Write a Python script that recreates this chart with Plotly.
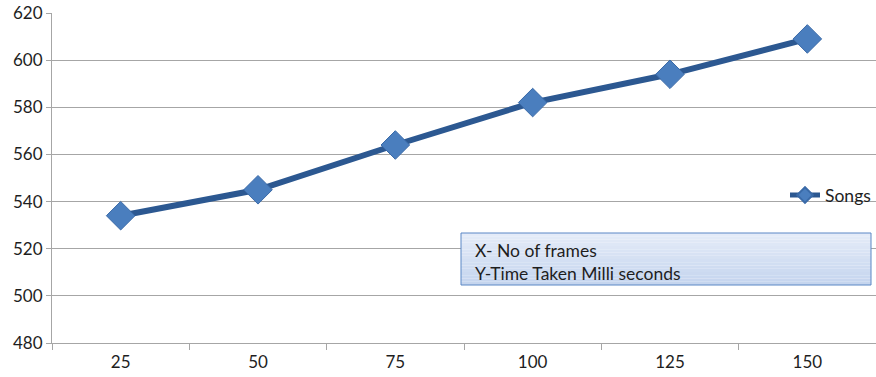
import plotly.graph_objects as go

# Frame counts (categories) and time taken in milliseconds
frames = ["25", "50", "75", "100", "125", "150"]
songs_ms = [534, 545, 564, 582, 594, 609]
y_ticks = [480, 500, 520, 540, 560, 580, 600, 620]

font_family = "Lato, 'Open Sans', sans-serif"
grid_color = "#A6A6A6"
text_color = "#1E1E1E"

fig = go.Figure()
fig.add_trace(go.Scatter(
    x=frames,
    y=songs_ms,
    mode="lines+markers",
    name="Songs",
    line=dict(color="#2C5891", width=6),
    marker=dict(symbol="diamond", size=22, color="#4A7EBE",
                line=dict(color="#3A6AA8", width=1)),
))

fig.update_layout(
    width=876,
    height=377,
    margin=dict(l=52, r=0, t=13, b=34),
    paper_bgcolor="white",
    plot_bgcolor="white",
    font=dict(family=font_family, size=17, color=text_color),
    showlegend=True,
    legend=dict(
        x=0.89, y=0.448, xanchor="left", yanchor="middle",
        bgcolor="rgba(0,0,0,0)",
        font=dict(family=font_family, size=17.5, color=text_color),
        itemsizing="constant",
    ),
)

fig.update_xaxes(
    type="category",
    range=[-0.5, 5.5],
    showgrid=False,
    showline=True, linecolor=grid_color, linewidth=1,
    ticks="outside", tickson="boundaries", ticklen=6, tickcolor=grid_color,
    tickfont=dict(size=17),
    ticklabelstandoff=4,
)

fig.update_yaxes(
    range=[480, 620],
    tickvals=y_ticks,
    showgrid=True, gridcolor=grid_color, gridwidth=1,
    showline=True, linecolor=grid_color, linewidth=1,
    ticks="outside", ticklen=5, tickcolor=grid_color,
    tickfont=dict(size=17),
    zeroline=False,
)

# Axis description box: vertical light-blue gradient built from thin strips
box_x0, box_x1 = (461 - 52) / 824, (871 - 52) / 824
box_y0, box_y1 = (343 - 285) / 330, (343 - 233) / 330
top_rgb = (229, 236, 248)
bottom_rgb = (196, 212, 238)
n_strips = 16
for i in range(n_strips):
    t = (i + 0.5) / n_strips
    r, g, b = (round(top_rgb[k] + (bottom_rgb[k] - top_rgb[k]) * t) for k in range(3))
    fig.add_shape(
        type="rect", xref="paper", yref="paper",
        x0=box_x0, x1=box_x1,
        y1=box_y1 - (box_y1 - box_y0) * i / n_strips,
        y0=box_y1 - (box_y1 - box_y0) * (i + 1) / n_strips,
        fillcolor=f"rgb({r},{g},{b})",
        line=dict(width=0),
        layer="above",
    )
fig.add_shape(
    type="rect", xref="paper", yref="paper",
    x0=box_x0, x1=box_x1, y0=box_y0, y1=box_y1,
    fillcolor="rgba(0,0,0,0)",
    line=dict(color="#5B87C5", width=1),
    layer="above",
)
fig.add_annotation(
    xref="paper", yref="paper",
    x=(473 - 52) / 824, y=(343 - 262) / 330,
    xanchor="left", yanchor="middle", align="left",
    showarrow=False,
    text="X- No of frames<br>Y-Time Taken Milli seconds",
    font=dict(family=font_family, size=17.5, color=text_color),
)

fig.write_html("out.html")
